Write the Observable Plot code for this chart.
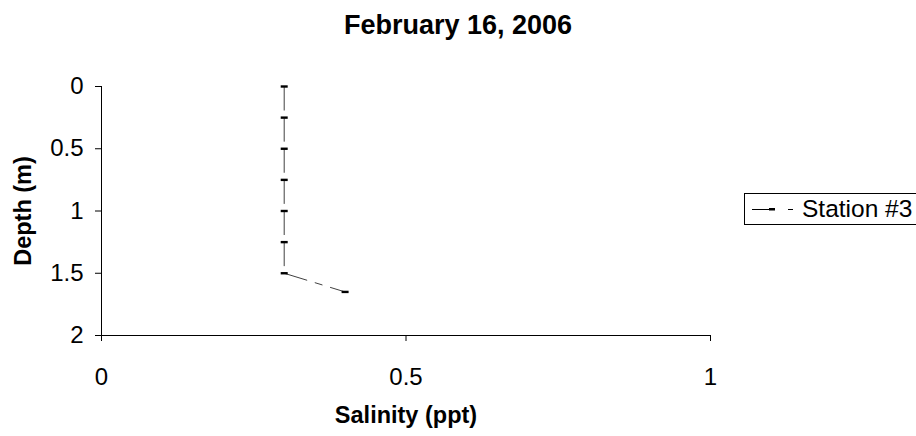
<!DOCTYPE html>
<html>
<head>
<meta charset="utf-8">
<script src="https://cdn.jsdelivr.net/npm/d3@7"></script>
<script src="https://cdn.jsdelivr.net/npm/@observablehq/plot@0.6"></script>
<style>
  html, body { margin: 0; padding: 0; background: #fff; }
  #wrap { position: relative; width: 916px; height: 436px; overflow: hidden; font-family: "Liberation Sans", Arial, sans-serif; }
  #legend { position: absolute; left: 744px; top: 193px; width: 190px; height: 32px; border: 1px solid #000; background: #fff; box-sizing: border-box; }
  #legend svg { position: absolute; left: 7px; top: 9px; }
  #legend span { position: absolute; left: 57px; top: 1px; font-size: 24.5px; line-height: 28px; color: #000; white-space: nowrap; }
</style>
</head>
<body>
<div id="wrap"></div>
<script>
const title = "February 16, 2006";
const xTitle = "Salinity (ppt)";
const yTitle = "Depth (m)";
const seriesName = "Station #3";
const salinity = [0.3, 0.3, 0.3, 0.3, 0.3, 0.3, 0.3, 0.4];
const depth = [0, 0.25, 0.5, 0.75, 1.0, 1.25, 1.5, 1.65];
const xTicks = [0, 0.5, 1];
const yTicks = [0, 0.5, 1, 1.5, 2];

const pts = salinity.map((s, i) => ({x: s, y: depth[i]}));
const segs = pts.slice(1).map((p, i) => ({x1: pts[i].x, y1: pts[i].y, x2: p.x, y2: p.y}));

const dashSymbol = { draw(ctx) { ctx.rect(-3.5, -1.2, 7, 2.4); } };

const chart = Plot.plot({
  width: 916,
  height: 436,
  marginTop: 86,
  marginBottom: 101,
  marginLeft: 101,
  marginRight: 206,
  style: { fontFamily: "Liberation Sans, Arial, sans-serif", fontSize: "24px", background: "#fff", color: "#000", overflow: "visible" },
  x: { domain: [0, 1] },
  y: { domain: [0, 2], reverse: true },
  marks: [
    Plot.axisX({ ticks: xTicks, tickFormat: d => String(d), tickSize: 6, tickPadding: 26, label: null, fontSize: 24, stroke: "#000" }),
    Plot.axisY({ ticks: yTicks, tickFormat: d => String(d), tickSize: 6, tickPadding: 12, label: null, fontSize: 24, stroke: "#000" }),
    Plot.ruleX([0], { stroke: "#000", y1: 0, y2: 2 }),
    Plot.ruleY([2], { stroke: "#000", x1: 0, x2: 1 }),
    Plot.link(segs, { x1: "x1", y1: "y1", x2: "x2", y2: "y2", stroke: "#000", strokeWidth: 1, strokeOpacity: 0.75, strokeDasharray: "24,8,8,8" }),
    Plot.dot(pts, { x: "x", y: "y", symbol: dashSymbol, fill: "#000", stroke: null }),
    Plot.text([title], { frameAnchor: "top", dy: -61, dx: 52, fontWeight: "bold", fontSize: 27, lineAnchor: "middle" }),
    Plot.text([xTitle], { frameAnchor: "bottom", dy: 80, fontWeight: "bold", fontSize: 23.5, lineAnchor: "middle" }),
    Plot.text([yTitle], { frameAnchor: "left", dx: -78.5, rotate: -90, fontWeight: "bold", fontSize: 23.5, lineAnchor: "middle", textAnchor: "middle" })
  ]
});

const wrap = document.getElementById("wrap");
wrap.appendChild(chart);

const legend = document.createElement("div");
legend.id = "legend";
legend.innerHTML = `<svg width="44" height="12"><line x1="0" y1="6.5" x2="18" y2="6.5" stroke="#000" stroke-width="1"/><rect x="17" y="5" width="6" height="2.5" fill="#000"/><line x1="36" y1="6.5" x2="41" y2="6.5" stroke="#000" stroke-width="1"/></svg><span></span>`;
legend.querySelector("span").textContent = seriesName;
wrap.appendChild(legend);
</script>
</body>
</html>
